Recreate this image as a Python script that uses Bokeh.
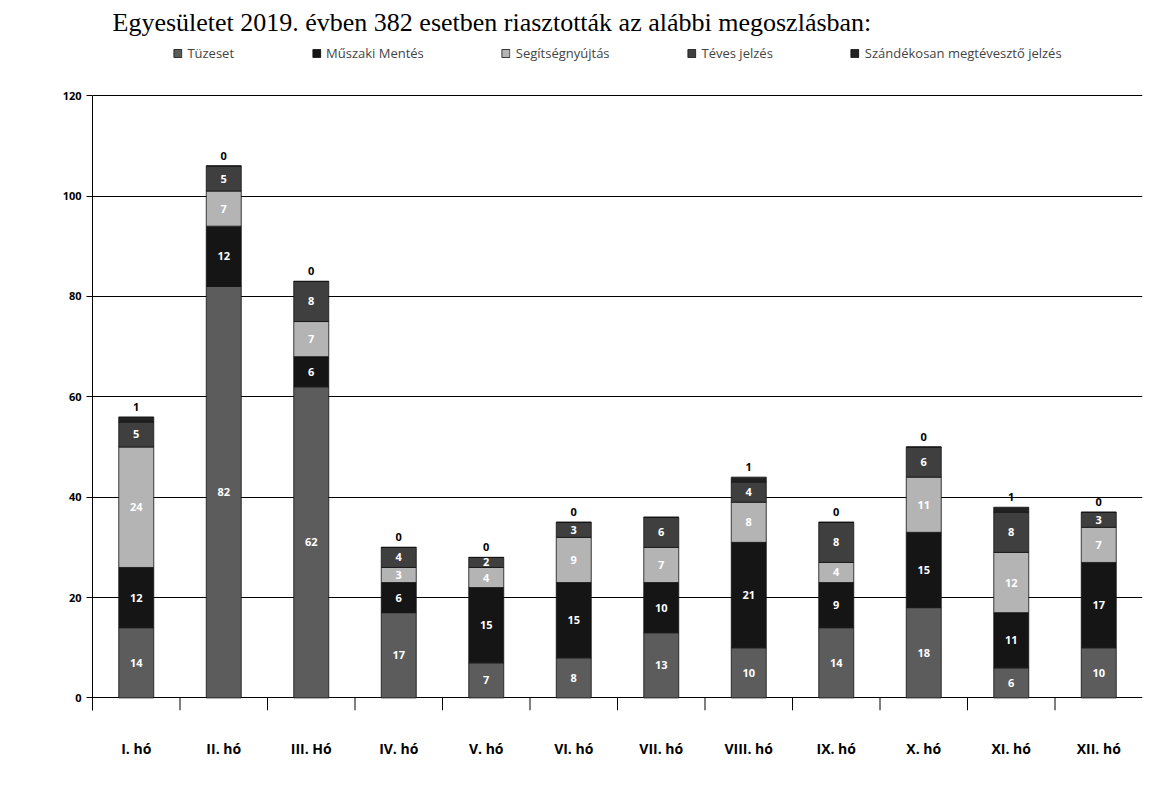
from bokeh.plotting import figure
from bokeh.models import (ColumnDataSource, Legend, LegendItem,
                          Range1d, FixedTicker, LabelSet)
from bokeh.core.properties import value
from bokeh.embed import file_html
from bokeh.resources import INLINE

months = ["I. hó", "II. hó", "III. Hó", "IV. hó", "V. hó", "VI. hó",
          "VII. hó", "VIII. hó", "IX. hó", "X. hó", "XI. hó", "XII. hó"]
series_names = ["Tüzeset", "Műszaki Mentés", "Segítségnyújtás", "Téves jelzés",
                "Szándékosan megtévesztő jelzés"]
tuzeset = [14, 82, 62, 17, 7, 8, 13, 10, 14, 18, 6, 10]
muszaki = [12, 12, 6, 6, 15, 15, 10, 21, 9, 15, 11, 17]
segitseg = [24, 7, 7, 3, 4, 9, 7, 8, 4, 11, 12, 7]
teves = [5, 5, 8, 4, 2, 3, 6, 4, 8, 6, 8, 3]
szandekos = [1, 0, 0, 0, 0, 0, None, 1, 0, 0, 1, 0]
y_ticks = [0, 20, 40, 60, 80, 100, 120]
title_text = "Egyesületet 2019. évben 382 esetben riasztották az alábbi megoszlásban:"

colors = ["#5c5c5c", "#151515", "#b4b4b4", "#3f3f3f", "#222222"]
keys = ["t", "m", "s", "v", "z"]

n = len(months)
xc = [i + 0.5 for i in range(n)]
szand_vals = [0 if v is None else v for v in szandekos]
data = {"x": xc, "t": tuzeset, "m": muszaki, "s": segitseg, "v": teves, "z": szand_vals}
src = ColumnDataSource(data)

p = figure(x_range=Range1d(0, n), y_range=Range1d(-2.5, 130.6),
           frame_width=1050, frame_height=668,
           output_backend="svg", toolbar_location=None, title=title_text,
           min_border_left=92, min_border_right=16, min_border_top=0,
           min_border_bottom=4)

p.title.text_font = "Liberation Serif"
p.title.text_font_size = "26px"
p.title.text_font_style = "normal"
p.title.text_color = "black"
p.title.offset = 20
p.title.standoff = 11

rs = p.vbar_stack(keys, x="x", width=0.4, source=src, color=colors,
                  line_color="#111111", line_width=0.8)

# boundary ticks between categories, below the zero line
bnd = list(range(1, n))
p.segment(x0=bnd, y0=[0] * len(bnd), x1=bnd, y1=[-2.5] * len(bnd),
          line_color="black", line_width=1)

# segment labels (white, centred in each segment)
lab_x, lab_y, lab_t = [], [], []
for i in range(n):
    base = 0
    for arr in (tuzeset, muszaki, segitseg, teves):
        v = arr[i]
        lab_x.append(xc[i])
        lab_y.append(base + v / 2)
        lab_t.append(str(v))
        base += v
lsrc = ColumnDataSource(dict(x=lab_x, y=lab_y, t=lab_t))
p.add_layout(LabelSet(x="x", y="y", text="t", source=lsrc, text_color="white",
                      text_font=value("Open Sans"), text_font_size="11px",
                      text_font_style="bold", text_align="center",
                      text_baseline="middle"))

# labels above the bars (top series)
top_y, top_t = [], []
for i in range(n):
    total = tuzeset[i] + muszaki[i] + segitseg[i] + teves[i] + szand_vals[i]
    top_y.append(total)
    top_t.append("" if szandekos[i] is None else str(szandekos[i]))
tsrc = ColumnDataSource(dict(x=xc, y=top_y, t=top_t))
p.add_layout(LabelSet(x="x", y="y", text="t", source=tsrc, text_color="black",
                      text_font=value("Open Sans"), text_font_size="11px",
                      text_font_style="bold", text_align="center",
                      text_baseline="bottom", y_offset=6))

# y axis & grid
p.yaxis.ticker = FixedTicker(ticks=y_ticks)
p.yaxis.bounds = (-2.5, 120)
p.yaxis.major_label_text_font = "Open Sans"
p.yaxis.major_label_text_font_style = "bold"
p.yaxis.major_label_text_font_size = "11px"
p.yaxis.major_label_text_color = "black"
p.yaxis.axis_line_color = "black"
p.yaxis.major_tick_line_color = "black"
p.yaxis.major_tick_out = 6
p.yaxis.major_tick_in = 0
p.yaxis.minor_tick_line_color = None
p.ygrid.ticker = FixedTicker(ticks=y_ticks)
p.ygrid.grid_line_color = "black"
p.ygrid.grid_line_width = 1
p.xgrid.grid_line_color = None
p.outline_line_color = None

# category label axis
lx = p.xaxis[0]
lx.ticker = FixedTicker(ticks=xc)
lx.major_label_overrides = {x: m for x, m in zip(xc, months)}
lx.axis_line_color = None
lx.major_tick_line_color = None
lx.minor_tick_line_color = None
lx.major_label_text_font = "Open Sans"
lx.major_label_text_font_style = "bold"
lx.major_label_text_font_size = "14px"
lx.major_label_text_color = "black"
lx.major_label_standoff = 22

items = [LegendItem(label=s, renderers=[r]) for s, r in zip(series_names, rs)]
legend = Legend(items=items, orientation="horizontal", location="top_center",
                label_text_font="Open Sans", label_text_font_size="13px",
                glyph_width=10, glyph_height=10, spacing=77, padding=4,
                margin=2, border_line_color=None, background_fill_alpha=0)
p.add_layout(legend, "center")

open("out.html", "w").write(file_html(p, INLINE))
